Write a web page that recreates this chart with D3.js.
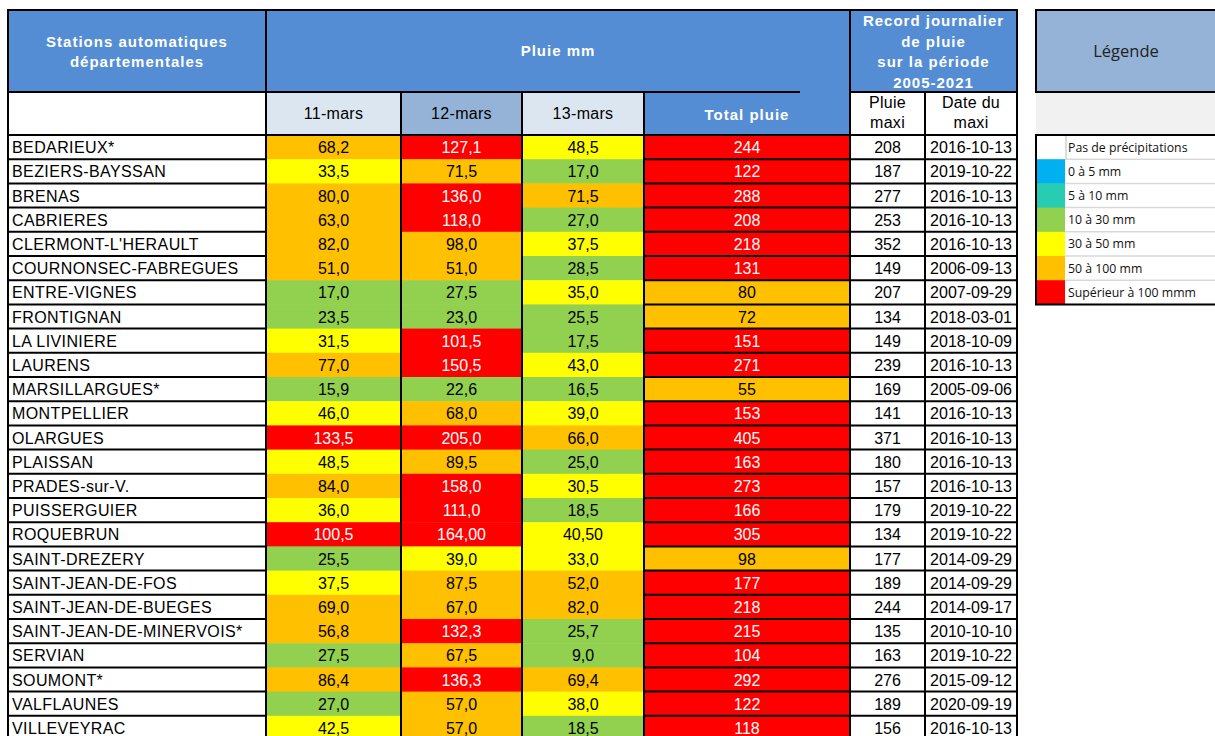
<!DOCTYPE html>
<html>
<head>
<meta charset="utf-8">
<script src="https://cdn.jsdelivr.net/npm/d3@7"></script>
<style>
  body { margin: 0; background: #fff; }
  text { font-family: "Liberation Sans", Arial, sans-serif; }
</style>
</head>
<body>
<script>
var stations = ["BEDARIEUX*", "BEZIERS-BAYSSAN", "BRENAS", "CABRIERES", "CLERMONT-L'HERAULT",
  "COURNONSEC-FABREGUES", "ENTRE-VIGNES", "FRONTIGNAN", "LA LIVINIERE", "LAURENS",
  "MARSILLARGUES*", "MONTPELLIER", "OLARGUES", "PLAISSAN", "PRADES-sur-V.",
  "PUISSERGUIER", "ROQUEBRUN", "SAINT-DREZERY", "SAINT-JEAN-DE-FOS", "SAINT-JEAN-DE-BUEGES",
  "SAINT-JEAN-DE-MINERVOIS*", "SERVIAN", "SOUMONT*", "VALFLAUNES", "VILLEVEYRAC"];

var days = ["11-mars", "12-mars", "13-mars"];

var rain11 = [68.2, 33.5, 80.0, 63.0, 82.0, 51.0, 17.0, 23.5, 31.5, 77.0, 15.9, 46.0, 133.5,
  48.5, 84.0, 36.0, 100.5, 25.5, 37.5, 69.0, 56.8, 27.5, 86.4, 27.0, 42.5];
var rain12 = [127.1, 71.5, 136.0, 118.0, 98.0, 51.0, 27.5, 23.0, 101.5, 150.5, 22.6, 68.0, 205.0,
  89.5, 158.0, 111.0, 164.00, 39.0, 87.5, 67.0, 132.3, 67.5, 136.3, 57.0, 57.0];
var rain13 = [48.5, 17.0, 71.5, 27.0, 37.5, 28.5, 35.0, 25.5, 17.5, 43.0, 16.5, 39.0, 66.0,
  25.0, 30.5, 18.5, 40.50, 33.0, 52.0, 82.0, 25.7, 9.0, 69.4, 38.0, 18.5];
var totals = [244, 122, 288, 208, 218, 131, 80, 72, 151, 271, 55, 153, 405,
  163, 273, 166, 305, 98, 177, 218, 215, 104, 292, 122, 118];
var recordMax = [208, 187, 277, 253, 352, 149, 207, 134, 149, 239, 169, 141, 371,
  180, 157, 179, 134, 177, 189, 244, 135, 163, 276, 189, 156];
var recordDate = ["2016-10-13", "2019-10-22", "2016-10-13", "2016-10-13", "2016-10-13",
  "2006-09-13", "2007-09-29", "2018-03-01", "2018-10-09", "2016-10-13", "2005-09-06",
  "2016-10-13", "2016-10-13", "2016-10-13", "2016-10-13", "2019-10-22", "2019-10-22",
  "2014-09-29", "2014-09-29", "2014-09-17", "2010-10-10", "2019-10-22", "2015-09-12",
  "2020-09-19", "2016-10-13"];
// ROQUEBRUN 12 and 13 mars are written with two decimals in the source sheet
var twoDecimalRows = ["ROQUEBRUN"];
var twoDecimalDays = ["12-mars", "13-mars"];

var legendLabels = ["Pas de précipitations", "0 à 5 mm", "5 à 10 mm", "10 à 30 mm",
  "30 à 50 mm", "50 à 100 mm", "Supérieur à 100 mmm"];
var legendColors = ["#ffffff", "#00b0f0", "#27cdb2", "#92d050", "#ffff00", "#ffc000", "#ff0000"];

// colour of a rain cell (as applied in the sheet: everything under 30 is green)
var rainColor = d3.scaleThreshold()
    .domain([30, 50, 100])
    .range(["#92d050", "#ffff00", "#ffc000", "#ff0000"]);

var blue = "#548dd4",
    lightBlue = "#dce6f1",
    midBlue = "#95b3d7";

var width = 1215, height = 736;

// column edges
var xStation = 8, x11 = 266, x12 = 401, x13 = 522, xTot = 644, xMax = 850, xDate = 925, xEnd = 1017;
var yTop = 10, yHead2 = 92, yData = 135, rowH = 24.2;
var fs = 16;

var y = d3.scaleBand()
    .domain(d3.range(stations.length))
    .range([yData, yData + stations.length * rowH]);

var svg = d3.select("body").append("svg")
    .attr("width", width)
    .attr("height", height);

function cell(x0, y0, x1, y1, fill) {
  svg.append("rect")
      .attr("x", x0).attr("y", y0)
      .attr("width", x1 - x0).attr("height", y1 - y0)
      .attr("fill", fill);
}

function line(x1, y1, x2, y2, color, w) {
  svg.append("line")
      .attr("x1", x1).attr("y1", y1).attr("x2", x2).attr("y2", y2)
      .attr("stroke", color || "#000")
      .attr("stroke-width", w || 2);
}

function label(x, yy, str, opts) {
  opts = opts || {};
  return svg.append("text")
      .attr("x", x).attr("y", yy)
      .attr("text-anchor", opts.anchor || "middle")
      .attr("font-size", opts.size || fs)
      .attr("font-weight", opts.bold ? "bold" : "normal")
      .attr("letter-spacing", opts.spacing || 0)
      .attr("fill", opts.color || "#000")
      .style("font-family", opts.family || null)
      .text(str);
}

// ---- header fills
cell(xStation, yTop, xEnd, yHead2, blue);
cell(xStation, yHead2, x11, yData, "#fff");
cell(x11, yHead2, x12, yData, lightBlue);
cell(x12, yHead2, x13, yData, midBlue);
cell(x13, yHead2, xTot, yData, lightBlue);
cell(xTot, yHead2, xMax, yData, blue);
cell(xMax, yHead2, xEnd, yData, "#fff");

// ---- data cells
var dayCols = [[x11, x12, rain11], [x12, x13, rain12], [x13, xTot, rain13]];
var fmt1 = d3.format(".1f"), fmt2 = d3.format(".2f");
function comma(s) { return s.replace(".", ","); }

dayCols.forEach(function(c) {
  svg.append("g").selectAll("rect")
    .data(c[2])
    .join("rect")
      .attr("x", c[0])
      .attr("y", function(d, i) { return y(i); })
      .attr("width", c[1] - c[0])
      .attr("height", y.bandwidth() + 0.5)
      .attr("fill", function(d) { return rainColor(d); });
});

svg.append("g").selectAll("rect")
  .data(totals)
  .join("rect")
    .attr("x", xTot)
    .attr("y", function(d, i) { return y(i); })
    .attr("width", xMax - xTot)
    .attr("height", y.bandwidth())
    .attr("fill", function(d) { return rainColor(d); });

// ---- grid lines
// row separators (station column and right part only)
d3.range(1, stations.length + 1).forEach(function(i) {
  var yy = yData + i * rowH;
  line(xStation, yy, x11, yy);
  line(xTot, yy, xEnd, yy);
});
line(xStation, yHead2, 800, yHead2);
line(xMax, yHead2, xEnd, yHead2);
line(xStation, yData, xEnd, yData);
[x11, xMax].forEach(function(x) { line(x, yTop, x, height); });
[x12, x13, xTot, xDate].forEach(function(x) { line(x, yHead2, x, height); });
line(xStation, yTop, xStation, height);
line(xEnd, yTop, xEnd, height);
line(xStation - 1, yTop, xEnd + 1, yTop);

// ---- header texts
var hdr = {bold: true, color: "#fff", size: 15, spacing: 1};
label((xStation + x11) / 2, 47, "Stations automatiques", hdr);
label((xStation + x11) / 2, 67, "départementales", hdr);
label((x11 + xMax) / 2, 56, "Pluie mm", hdr);
["Record journalier", "de pluie", "sur la période", "2005-2021"].forEach(function(s, i) {
  label((xMax + xEnd) / 2, 26 + i * 20.5, s, hdr);
});
days.forEach(function(dd, i) {
  var c = dayCols[i];
  label((c[0] + c[1]) / 2, 119, dd, {spacing: 0.3});
});
label((xTot + xMax) / 2, 120, "Total pluie", hdr);
label((xMax + xDate) / 2, 108, "Pluie", {spacing: 0.3});
label((xMax + xDate) / 2, 128, "maxi", {spacing: 0.3});
label((xDate + xEnd) / 2, 108, "Date du", {spacing: 0.3});
label((xDate + xEnd) / 2, 128, "maxi", {spacing: 0.3});

// ---- row texts
function rowY(i) { return y(i) + y.bandwidth() / 2 + 6; }

svg.append("g").selectAll("text")
  .data(stations)
  .join("text")
    .attr("x", xStation + 4)
    .attr("y", function(d, i) { return rowY(i); })
    .attr("font-size", fs)
    .attr("letter-spacing", 0.4)
    .text(function(d) { return d; });

dayCols.forEach(function(c, k) {
  svg.append("g").selectAll("text")
    .data(c[2])
    .join("text")
      .attr("x", (c[0] + c[1]) / 2)
      .attr("y", function(d, i) { return rowY(i); })
      .attr("text-anchor", "middle")
      .attr("font-size", fs)
      .attr("fill", function(d) { return d > 100 ? "#fff" : "#000"; })
      .text(function(d, i) {
        var two = twoDecimalRows.indexOf(stations[i]) >= 0 && twoDecimalDays.indexOf(days[k]) >= 0;
        return comma(two ? fmt2(d) : fmt1(d));
      });
});

svg.append("g").selectAll("text")
  .data(totals)
  .join("text")
    .attr("x", (xTot + xMax) / 2)
    .attr("y", function(d, i) { return rowY(i); })
    .attr("text-anchor", "middle")
    .attr("font-size", fs)
    .attr("fill", function(d) { return d > 100 ? "#fff" : "#000"; })
    .text(function(d) { return d; });

svg.append("g").selectAll("text")
  .data(recordMax)
  .join("text")
    .attr("x", (xMax + xDate) / 2)
    .attr("y", function(d, i) { return rowY(i); })
    .attr("text-anchor", "middle")
    .attr("font-size", fs)
    .text(function(d) { return d; });

svg.append("g").selectAll("text")
  .data(recordDate)
  .join("text")
    .attr("x", (xDate + xEnd) / 2)
    .attr("y", function(d, i) { return rowY(i); })
    .attr("text-anchor", "middle")
    .attr("font-size", fs)
    .text(function(d) { return d; });

// ---- legend
var lx = 1036, lSw = 1065, lEnd = 1216;
var legFont = "'Open Sans', 'Noto Sans', sans-serif";
cell(lx, yTop, lEnd, yHead2, midBlue);
line(lx - 1, yTop, lEnd, yTop);
line(lx - 1, yHead2, lEnd, yHead2);
line(lx, yTop, lx, yHead2);
label((lx + lEnd) / 2, 57, "Légende", {size: 16.5, color: "#222", family: legFont});
cell(lx, yHead2 + 1, lEnd, yData, "#f1f1f1");

var legend = svg.append("g");
legend.selectAll("rect")
  .data(legendColors)
  .join("rect")
    .attr("x", lx)
    .attr("y", function(d, i) { return y(i); })
    .attr("width", lSw - lx)
    .attr("height", y.bandwidth() + 0.5)
    .attr("fill", function(d) { return d; });
legend.selectAll("line.sep")
  .data(legendLabels)
  .join("line")
    .attr("class", "sep")
    .attr("x1", lSw).attr("x2", lEnd)
    .attr("y1", function(d, i) { return y(i) + y.bandwidth(); })
    .attr("y2", function(d, i) { return y(i) + y.bandwidth(); })
    .attr("stroke", "#d9d9d9")
    .attr("stroke-width", 1.5);
line(lSw + 1, y(0), lSw + 1, y(0) + y.bandwidth(), "#d0d0d0", 1.5);
legend.selectAll("text")
  .data(legendLabels)
  .join("text")
    .attr("x", lSw + 3)
    .attr("y", function(d, i) { return y(i) + y.bandwidth() / 2 + 4.5; })
    .attr("font-size", 12.3)
    .style("font-family", legFont)
    .attr("fill", "#111")
    .text(function(d) { return d; });
var legBottom = y(legendLabels.length - 1) + y.bandwidth();
line(lx - 1, yData, lEnd, yData);
line(lx, yData, lx, legBottom);
line(lx - 1, legBottom, lEnd, legBottom);
</script>
</body>
</html>
